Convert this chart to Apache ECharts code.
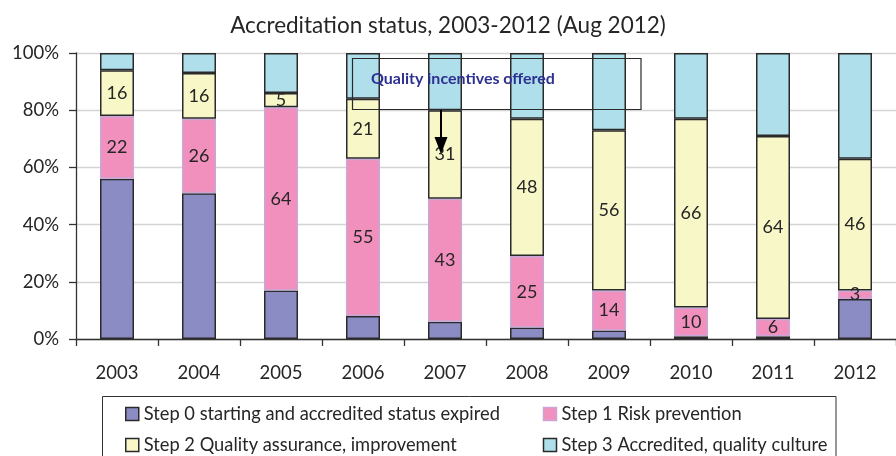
<!DOCTYPE html>
<html>
<head>
<meta charset="utf-8">
<script src="https://cdn.jsdelivr.net/npm/echarts@6/dist/echarts.min.js"></script>
<style>
html,body{margin:0;padding:0;background:#fff;}
#c{width:896px;height:456px;}
</style>
</head>
<body>
<div id="c"></div>
<script>
var categories = ['2003','2004','2005','2006','2007','2008','2009','2010','2011','2012'];
var seriesNames = ['Step 0 starting and accredited status expired','Step 1 Risk prevention','Step 2 Quality assurance, improvement','Step 3 Accredited, quality culture'];
var step0 = [56,51,17,8,6,4,3,1,1,14];
var step1 = [22,26,64,55,43,25,14,10,6,3];
var step2 = [16,16,5,21,31,48,56,66,64,46];
var step3 = [6,7,14,16,20,23,27,23,29,37];
var yTicks = [0,20,40,60,80,100];
var titleText = 'Accreditation status, 2003-2012 (Aug 2012)';
var noteText = 'Quality incentives offered';

var FONT = 'Lato';
var colors = ['#8c8cc4','#f290bd','#f7f7c7','#afdfea'];
var borders = ['#2a2a2a','#c9a6d6','#2a2a2a','#2a2a2a'];
var values = [step0, step1, step2, step3];
var showLabel = [false, true, true, false];

var chart = echarts.init(document.getElementById('c'), null, {renderer:'canvas'});

var series = values.map(function(v, i){
  return {
    name: seriesNames[i],
    type: 'bar',
    stack: 'total',
    barWidth: 34,
    data: v,
    itemStyle: {color: colors[i], borderColor: borders[i], borderWidth: 1.5},
    label: {show: showLabel[i], position: 'inside', color: '#262626', fontSize: 18, fontFamily: FONT},
    emphasis: {disabled: true}
  };
});

chart.setOption({
  animation: false,
  backgroundColor: '#fff',
  title: {
    text: titleText,
    left: 'center',
    top: 9,
    textStyle: {fontFamily: FONT, fontSize: 22.5, fontWeight: 'normal', color: '#262626'}
  },
  grid: {left: 76, top: 53, width: 830, height: 286, containLabel: false},
  xAxis: {
    type: 'category',
    data: categories,
    axisLine: {lineStyle: {color: '#333', width: 1.3}},
    axisTick: {show: true, length: 7, inside: false, lineStyle: {color: '#333', width: 1.3}},
    axisLabel: {fontFamily: FONT, fontSize: 18.5, color: '#262626', margin: 25},
    splitLine: {show: false}
  },
  yAxis: {
    type: 'value',
    min: yTicks[0],
    max: yTicks[yTicks.length-1],
    interval: 20,
    axisLine: {show: true, lineStyle: {color: '#333', width: 1.3}},
    axisTick: {show: true, length: 7, inside: false, lineStyle: {color: '#333', width: 1.3}},
    axisLabel: {fontFamily: FONT, fontSize: 18.5, color: '#262626', margin: 17, formatter: '{value}%'},
    splitLine: {show: true, lineStyle: {color: '#d4d4d4', width: 1.3}}
  },
  legend: {
    left: 125,
    top: 405,
    padding: 0,
    itemGap: 13,
    itemWidth: 13,
    itemHeight: 13,
    width: 720,
    icon: 'rect',
    selectedMode: false,
    textStyle: {fontFamily: FONT, fontSize: 18.3, color: '#262626', lineHeight: 13},
    data: seriesNames.map(function(n, i){
      var d = {name: n, itemStyle: {color: colors[i], borderColor: borders[i], borderWidth: 1.5}};
      if (i % 2 === 0) d.textStyle = {width: 386};
      return d;
    })
  },
  graphic: [
    {type: 'rect', shape: {x: 102.5, y: 396.5, width: 733.5, height: 80}, style: {fill: 'none', stroke: '#333', lineWidth: 1}, z: 1},
    {type: 'rect', shape: {x: 352.5, y: 58.5, width: 288.5, height: 51}, style: {fill: 'none', stroke: '#2a2a2a', lineWidth: 1.2}, z: 100},
    {type: 'text', x: 371, y: 79, style: {text: noteText, fill: '#2e3192', font: 'bold 16px ' + FONT, verticalAlign: 'middle', align: 'left'}, z: 101},
    {type: 'line', shape: {x1: 441, y1: 110, x2: 441, y2: 140}, style: {stroke: '#000', lineWidth: 2}, z: 101},
    {type: 'polygon', shape: {points: [[434.5,137],[447.5,137],[441,154]]}, style: {fill: '#000'}, z: 101}
  ],
  series: series
});
</script>
</body>
</html>
